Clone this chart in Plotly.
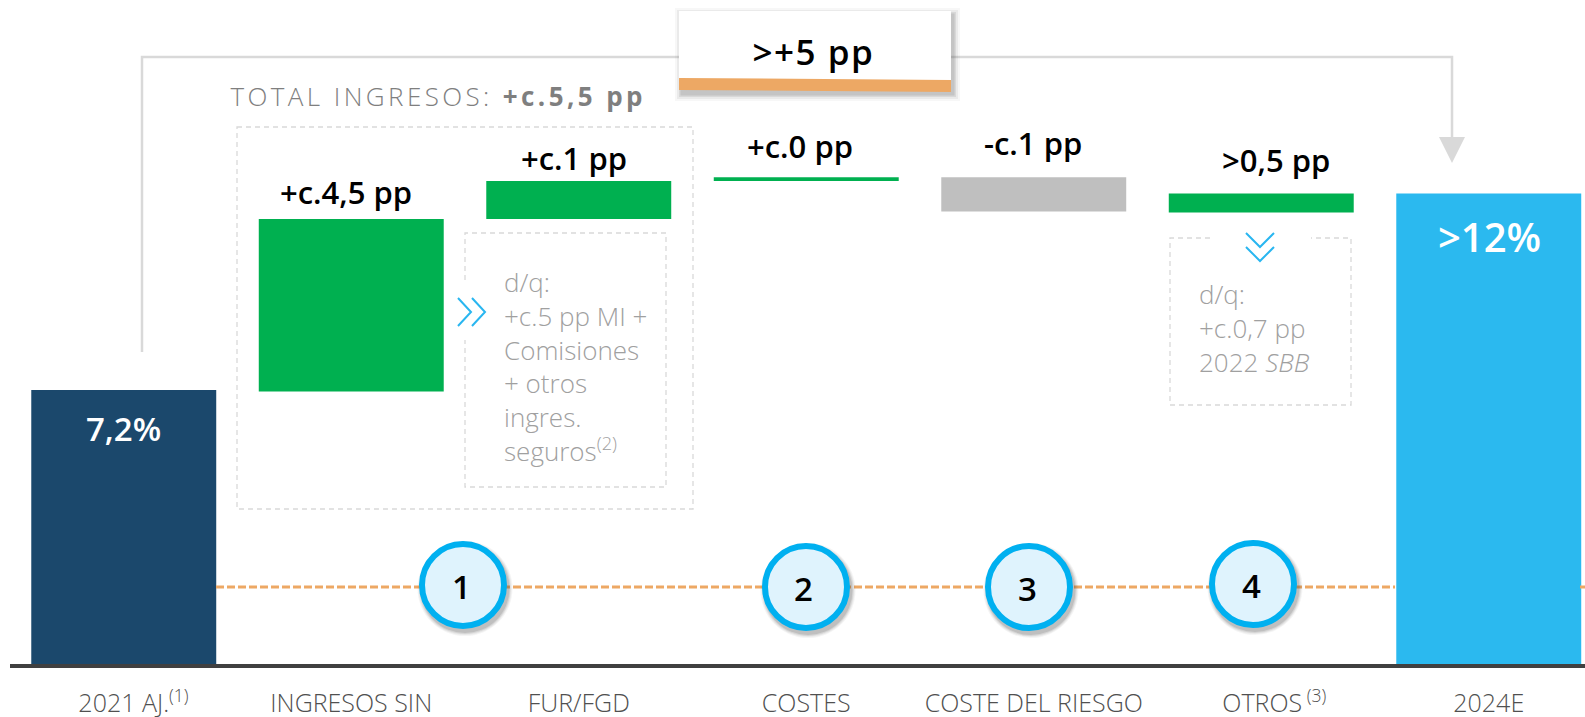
import plotly.graph_objects as go

categories = ["2021", "INGRESOS", "FUR/FGD", "COSTES", "RIESGO", "OTROS", "2024E"]
tick_labels = ["\u00a0\u00a0\u00a02021 AJ.<sup>(1)</sup>", "INGRESOS SIN", "FUR/FGD", "COSTES", "COSTE DEL RIESGO", "\u00a0\u00a0\u00a0\u00a0OTROS<sup> (3)</sup>", "2024E"]
bar_base = [0, 7.16, 11.69, 12.69, 11.89, 11.86, 0]
bar_size = [7.2, 4.53, 1.0, 0.1, 0.9, 0.5, 12.36]
bar_colors = ["#1B486C", "#00B050", "#00B050", "#00B050", "#BFBFBF", "#00B050", "#2BB9EF"]
delta_labels = ["+c.4,5 pp", "+c.1 pp", "+c.0 pp", "-c.1 pp", ">0,5 pp"]
end_labels = ["7,2%", ">12%"]
step_labels = ["1", "2", "3", "4"]
note_left = ["d/q:", "+c.5 pp MI +", "Comisiones", "+ otros", "ingres.", "seguros<sup>(2)</sup>"]
note_right = ["d/q:", "+c.0,7 pp", "2022 <i>SBB</i>"]

W, H = 1585, 717
ML, BASE = 10, 664
X = lambda p: (p - ML) / (W - ML)
Y = lambda p: (BASE - p) / BASE
PP = 38.06
STEP = 227.5

fig = go.Figure(go.Bar(x=categories, y=bar_size, base=bar_base, marker=dict(color=bar_colors, line_width=0),
                       width=0.813, hoverinfo="skip"))

shapes, ann = [], []

def rect(x0, y0, x1, y1, fill, layer="above", op=1):
    shapes.append(dict(type="rect", xref="paper", yref="paper", x0=X(x0), x1=X(x1), y0=Y(y0), y1=Y(y1),
                       fillcolor=fill, line_width=0, layer=layer, opacity=op))

def path(pts, color="#D9D9D9", width=1, dash="solid", fill=None, layer="below", close=False):
    d = "M" + " L".join(f"{X(a):.5f},{Y(b):.5f}" for a, b in pts) + (" Z" if close else "")
    s = dict(type="path", xref="paper", yref="paper", path=d, layer=layer, line=dict(color=color, width=width, dash=dash))
    if fill:
        s["fillcolor"] = fill
    if width == 0:
        s["line"] = dict(width=0)
    shapes.append(s)

def label(x, y, text, size, color="#000000", weight=600, anchor="center", family="Open Sans"):
    ann.append(dict(xref="paper", yref="paper", x=X(x), y=Y(y), text=text, showarrow=False, xanchor=anchor, yanchor="middle",
                    align=anchor if anchor != "center" else "center",
                    font=dict(size=size, color=color, family=family, weight=weight)))

def circle(cx, cy, r, **kw):
    shapes.append(dict(type="circle", xref="paper", yref="paper", x0=X(cx - r), x1=X(cx + r), y0=Y(cy + r), y1=Y(cy - r), **kw))

# connector
GREY = "#D9D9D9"
path([(142, 352), (142, 57), (1452, 57), (1452, 140)], GREY, 2.5)
path([(1439, 137), (1465, 137), (1452, 163)], GREY, 0, fill=GREY, close=True)

# dashed boxes
DASH = "5px,4px"
path([(237, 127), (693, 127), (693, 509), (237, 509)], GREY, 1.3, DASH, close=True)
path([(465, 280), (465, 233), (666, 233), (666, 487), (465, 487), (465, 340)], GREY, 1.3, DASH)
path([(1210, 238), (1170, 238), (1170, 405), (1351, 405), (1351, 238), (1311, 238)], GREY, 1.3, DASH)

# chevrons
CH = "#29B6F0"
for dx in (0, 14):
    path([(458 + dx, 298), (471 + dx, 312), (458 + dx, 326)], CH, 2, layer="above")
for dy in (0, 14):
    path([(1246, 233 + dy), (1260, 247 + dy), (1274, 233 + dy)], CH, 2, layer="above")

# orange dashed line
OR = "#EDA864"
path([(216, 587), (1395, 587)], OR, 3, "8px,3px", layer="above")
path([(1580, 587), (1585, 587)], OR, 3, "8px,3px", layer="above")

# circles
for (cx, cy), t in zip([(463, 585), (806, 587), (1029, 587), (1253, 584)], step_labels):
    for k, o in ((9, .05), (7, .07), (5, .11), (3, .15)):
        circle(cx + 2, cy + 3.5, 43 + k / 2, fillcolor="#404040", opacity=o, line_width=0, layer="above")
    circle(cx, cy, 41, fillcolor="#DFF3FD", line=dict(color="#00B0F0", width=6), layer="above")
    label(cx - 2, cy + 1, t, 33)

# top box
for k, o in ((7, .05), (5, .08), (3, .12), (1.5, .15)):
    rect(679 - k + 3, 11 - k + 4, 951 + k + 2, 91 + k + 3, "#595959", op=o)
rect(679, 11, 951, 90, "#FFFFFF")
path([(679, 78), (951, 80), (951, 92), (679, 90)], OR, 0, fill=OR, layer="above", close=True)
label(813, 52, ">+5 pp", 35)

# headings and labels
ann.append(dict(xref="paper", yref="paper", x=X(438), y=Y(96), xanchor="center", yanchor="middle", showarrow=False,
                text='TOTAL INGRESOS: <b>+c.5,5 pp</b>', font=dict(size=26, color="#7F7F7F", family="Open Sans", weight=300)))
for (x, y), t in zip([(346, 192), (574, 158), (800, 146), (1033, 143), (1276, 160)], delta_labels):
    label(x, y, t, 31)
label(123, 428, end_labels[0], 33, "#FFFFFF")
label(1489, 236, end_labels[1], 40, "#FFFFFF", 600)

label(502, 366, "<br>".join(note_left), 26, "#A0A0A0", 300, "left")
label(1197, 328, "<br>".join(note_right), 26, "#A0A0A0", 300, "left")

fig.update_layout(
    width=W, height=H, margin=dict(l=ML, r=0, t=0, b=H - BASE, autoexpand=False),
    paper_bgcolor="#FFFFFF", plot_bgcolor="#FFFFFF", showlegend=False, shapes=shapes, annotations=ann,
    font=dict(family="Open Sans"),
    xaxis=dict(type="category", categoryorder="array", categoryarray=categories,
               tickmode="array", tickvals=categories, ticktext=tick_labels,
               range=[-0.5, (W - ML) / STEP - 0.5], showgrid=False, zeroline=False,
               showline=True, linecolor="#404040", linewidth=4, ticks="", ticklabelstandoff=14,
               tickfont=dict(size=25, color="#505050", family="Open Sans", weight=300), tickangle=0),
    yaxis=dict(range=[0, BASE / PP], visible=False),
)

post = """
document.body.style.margin='0';document.body.style.overflow='hidden';
var a=document.querySelectorAll('.annotation-text');
a.forEach(function(t){var s=t.textContent;
 if(s.indexOf('TOTAL')===0)t.style.letterSpacing='3.4px';
 if(s.indexOf('>+5')===0)t.style.letterSpacing='1.5px';});
"""
fig.write_html("out.html", post_script=post, config=dict(displayModeBar=False))
